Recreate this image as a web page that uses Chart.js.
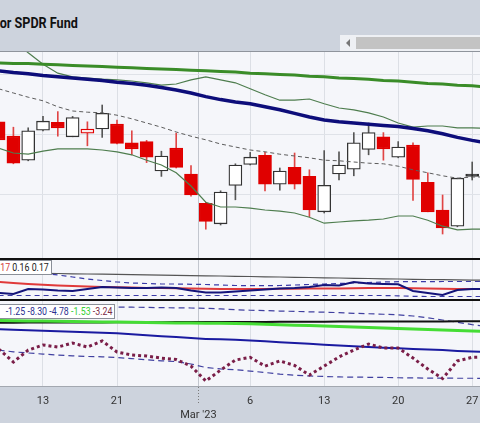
<!DOCTYPE html>
<html><head><meta charset="utf-8">
<script src="https://cdn.jsdelivr.net/npm/chart.js@4.4.1/dist/chart.umd.min.js"></script>
<style>
html,body{margin:0;padding:0;}
body{width:480px;height:423px;overflow:hidden;background:#cdd3dd;position:relative;font-family:Roboto,sans-serif;}
#title{position:absolute;right:402px;top:15px;font-weight:bold;font-size:14px;font-family:Roboto,sans-serif;color:#111;white-space:nowrap;transform:scaleX(0.9);transform-origin:right center;}
#scroll{position:absolute;left:340px;top:35px;width:140px;height:16px;background:#eef0f4;}
#thumb{position:absolute;left:16px;top:2px;right:0;height:12px;background:#c3c3c3;}
#arrow{position:absolute;left:6px;top:4px;width:0;height:0;border-top:4px solid transparent;border-bottom:4px solid transparent;border-right:4px solid #777;}
canvas{position:absolute;left:0;}
.sep{position:absolute;left:0;width:480px;}
.lbl{position:absolute;background:#fff;border:1px solid #8a8f98;white-space:nowrap;font-size:11px;font-family:Roboto,sans-serif;padding:0 2px 0 60px;line-height:13px;height:13px;}
.lbl span.in{display:inline-block;transform:scaleX(0.8);transform-origin:right center;}
</style></head><body>
<div id="title">or SPDR Fund</div>
<div id="scroll"><div id="arrow"></div><div id="thumb"></div></div>
<div class="sep" style="top:51px;height:1px;background:#8f949c"></div>
<canvas id="c1" width="480" height="206" style="top:52px"></canvas>
<div class="sep" style="top:258px;height:2px;background:#111"></div>
<canvas id="c2" width="480" height="39" style="top:260px"></canvas>
<div class="sep" style="top:299px;height:2px;background:#111"></div>
<canvas id="c3" width="480" height="122" style="top:301px"></canvas>
<div class="lbl" id="l2" style="right:428px;top:260px"><span class="in"></span></div>
<div class="lbl" id="l3" style="right:365px;top:304px"><span class="in"></span></div>
<script>
// ---- data ----
const dates = ['2023-02-08','2023-02-09','2023-02-10','2023-02-13','2023-02-14','2023-02-15','2023-02-16','2023-02-17','2023-02-21','2023-02-22','2023-02-23','2023-02-24','2023-02-27','2023-02-28','2023-03-01','2023-03-02','2023-03-03','2023-03-06','2023-03-07','2023-03-08','2023-03-09','2023-03-10','2023-03-13','2023-03-14','2023-03-15','2023-03-16','2023-03-17','2023-03-20','2023-03-21','2023-03-22','2023-03-23','2023-03-24','2023-03-27','2023-03-28'];
const open  = [65.22,64.98,64.58,65.08,65.21,64.97,65.03,65.10,65.18,64.87,64.89,64.40,64.78,64.35,63.86,63.52,64.16,64.51,64.66,64.18,64.46,64.31,63.72,64.35,64.43,64.76,64.97,64.63,64.83,64.21,63.75,63.48,64.35];
const high  = [65.27,65.13,65.12,65.31,65.39,65.31,65.22,65.50,65.25,65.07,64.91,64.73,65.03,64.49,63.88,64.07,64.52,64.71,64.71,64.45,64.70,64.42,64.74,64.72,65.04,65.20,65.04,64.89,64.87,64.37,64.00,64.28,64.55];
const low   = [64.87,64.52,64.57,65.07,64.98,64.97,64.82,64.96,64.85,64.67,64.54,64.31,64.45,63.98,63.43,63.50,63.92,64.50,64.07,64.08,64.10,63.64,63.70,64.25,64.32,64.67,64.58,64.62,63.91,63.72,63.35,63.47,64.25];
const close = [64.92,64.53,65.07,65.23,65.12,65.29,65.10,65.36,64.86,64.77,64.63,64.65,64.46,64.00,63.56,64.05,64.50,64.63,64.18,64.40,64.18,63.75,64.16,64.50,64.87,65.04,64.77,64.80,64.26,63.72,63.45,64.28,64.31];
const bbUpper = [66.75,66.58,66.37,66.18,66.03,65.97,65.95,65.93,65.92,65.90,65.87,65.83,65.85,65.92,65.97,65.92,65.87,65.77,65.67,65.58,65.58,65.60,65.52,65.45,65.42,65.37,65.30,65.20,65.13,65.15,65.15,65.12,65.12,65.11];
const bbMid   = [65.77,65.70,65.63,65.57,65.47,65.40,65.38,65.37,65.33,65.27,65.20,65.13,65.05,64.98,64.92,64.85,64.80,64.75,64.72,64.68,64.65,64.62,64.58,64.57,64.55,64.53,64.52,64.48,64.42,64.37,64.32,64.28,64.30,64.30];
const bbLower = [64.78,64.70,64.68,64.73,64.77,64.77,64.77,64.75,64.72,64.67,64.58,64.50,64.37,64.15,63.88,63.80,63.80,63.78,63.75,63.73,63.70,63.63,63.53,63.55,63.57,63.58,63.60,63.65,63.65,63.58,63.48,63.42,63.43,63.43];
const sma200 = [66.20,66.19,66.19,66.18,66.17,66.16,66.15,66.14,66.13,66.12,66.11,66.10,66.09,66.08,66.07,66.06,66.05,66.03,66.02,66.01,66.00,65.98,65.97,65.95,65.94,65.93,65.91,65.90,65.88,65.86,65.85,65.83,65.82,65.80];
const sma50  = [66.07,66.04,66.02,65.99,65.97,65.95,65.93,65.91,65.88,65.86,65.83,65.79,65.75,65.70,65.64,65.59,65.55,65.52,65.47,65.42,65.36,65.30,65.25,65.22,65.20,65.18,65.16,65.14,65.11,65.07,65.02,64.96,64.91,64.87];
// panel 2
const p2Line   = [0.161,0.160,0.165,0.1645,0.1635,0.163,0.165,0.167,0.1665,0.166,0.166,0.1665,0.166,0.1635,0.1615,0.1615,0.1625,0.1635,0.1645,0.1655,0.166,0.167,0.169,0.1685,0.172,0.1705,0.170,0.1697,0.163,0.161,0.159,0.164,0.165,0.165];
const p2Avg    = [0.172,0.171,0.170,0.1693,0.1685,0.168,0.1675,0.167,0.1667,0.1664,0.1661,0.1659,0.1657,0.1655,0.1653,0.1651,0.165,0.165,0.1651,0.1652,0.1653,0.1654,0.1655,0.1656,0.1658,0.1659,0.166,0.166,0.1658,0.1655,0.1652,0.165,0.165,0.165];
const p2Upper  = [0.181,0.181,0.181,0.1805,0.179,0.177,0.175,0.1735,0.172,0.171,0.1705,0.170,0.170,0.1697,0.1695,0.169,0.1685,0.1683,0.1683,0.1685,0.169,0.1695,0.170,0.1705,0.171,0.1715,0.172,0.1723,0.1723,0.1723,0.1725,0.1725,0.1725,0.1725];
const p2Lower  = [0.1585,0.1585,0.1585,0.1585,0.1585,0.1585,0.1585,0.1585,0.1585,0.1585,0.1585,0.1585,0.1585,0.1585,0.1585,0.1585,0.1585,0.1585,0.1585,0.1585,0.1585,0.1585,0.1585,0.1585,0.1585,0.1585,0.1585,0.1582,0.1577,0.1575,0.1575,0.1575,0.1575,0.1575];
const p2Gray   = [0.1814,0.1812,0.1809,0.1807,0.1805,0.1802,0.1800,0.1798,0.1796,0.1793,0.1791,0.1789,0.1786,0.1784,0.1782,0.1780,0.1777,0.1775,0.1772,0.1770,0.1767,0.1765,0.1762,0.1760,0.1757,0.1755,0.1752,0.1750,0.1747,0.1745,0.1743,0.1741,0.1739,0.1737];
// panel 3
const p3Osc    = [-2.72,-3.54,-2.79,-2.47,-2.60,-2.35,-2.60,-2.22,-2.91,-3.10,-3.16,-3.29,-3.38,-3.79,-4.72,-4.04,-3.41,-3.25,-3.79,-3.47,-3.75,-4.35,-3.79,-3.22,-2.79,-2.41,-2.66,-2.66,-3.29,-3.97,-4.57,-3.47,-3.24,-3.22];
const p3Green  = [-0.94,-0.95,-0.97,-0.98,-0.99,-1.00,-1.02,-1.03,-1.04,-1.05,-1.07,-1.08,-1.09,-1.10,-1.11,-1.12,-1.13,-1.15,-1.17,-1.20,-1.24,-1.26,-1.29,-1.32,-1.35,-1.38,-1.41,-1.44,-1.47,-1.50,-1.53,-1.57,-1.60,-1.63];
const p3Navy   = [-1.49,-1.52,-1.55,-1.58,-1.62,-1.65,-1.68,-1.71,-1.74,-1.80,-1.86,-1.92,-1.98,-2.04,-2.09,-2.12,-2.15,-2.19,-2.24,-2.30,-2.35,-2.40,-2.45,-2.50,-2.55,-2.60,-2.64,-2.67,-2.72,-2.75,-2.79,-2.84,-2.88,-2.91];
const p3Black  = [-1.08,-1.08,-1.07,-1.07,-1.07,-1.06,-1.06,-1.06,-1.05,-1.05,-1.05,-1.05,-1.04,-1.04,-1.04,-1.03,-1.03,-1.03,-1.03,-1.02,-1.02,-1.02,-1.02,-1.01,-1.01,-1.01,-1.01,-1.00,-1.00,-1.00,-1.00,-0.99,-0.99,-0.99];
const p3Upper  = [-0.07,-0.07,-0.07,-0.07,-0.07,-0.07,-0.07,-0.07,-0.10,-0.11,-0.12,-0.14,-0.15,-0.16,-0.18,-0.22,-0.27,-0.30,-0.32,-0.35,-0.37,-0.40,-0.42,-0.45,-0.49,-0.52,-0.55,-0.59,-0.66,-0.77,-0.91,-1.05,-1.20,-1.32];
const p3Lower  = [-2.79,-2.90,-2.97,-3.04,-3.10,-3.15,-3.19,-3.21,-3.26,-3.32,-3.40,-3.46,-3.51,-3.66,-3.88,-3.97,-4.02,-4.10,-4.19,-4.29,-4.36,-4.41,-4.44,-4.47,-4.48,-4.49,-4.50,-4.52,-4.53,-4.54,-4.54,-4.55,-4.55,-4.56];
// axis ticks (positions as trading-day index)
const tickVals   = [3, 8, 13.5, 17, 22, 27, 32];
const tickLabels = ['13', '21', ['', "Mar '23"], '6', '13', '20', '27'];
const label2 = [{t:'0.17', c:'#d43a3a'}, {t:' 0.16 0.17', c:'#222'}];
const label3 = [{t:'-1.25 -8.30 -4.78', c:'#2a2f91'}, {t:' -1.53', c:'#35cf35'}, {t:' -3.24', c:'#7b2a45'}];

// ---- rendering ----
const X_MIN = 0.0946, X_MAX = 32.527;
const RED = '#e00000', BLK = '#333333';
const pts = arr => arr.map((v, k) => ({x: k, y: v}));
function fillLabel(id, parts){
  const el = document.querySelector('#' + id + ' .in');
  parts.forEach(p => { const s = document.createElement('span'); s.textContent = p.t; s.style.color = p.c; el.appendChild(s); });
}
fillLabel('l2', label2); fillLabel('l3', label3);

const bgPlugin = {id:'bg', beforeDraw(chart){ const {ctx, chartArea:a} = chart; ctx.save(); ctx.fillStyle = '#f5f6fa'; ctx.fillRect(a.left, a.top, a.right - a.left, a.bottom - a.top); ctx.restore(); }};

function xScale(show){
  return {type:'linear', min:X_MIN, max:X_MAX, offset:false,
    afterBuildTicks(s){ s.ticks = tickVals.map(v => ({value:v})); },
    afterFit(s){ s.height = show ? 37 : 0; },
    grid:{ color: c => (c.tick && c.tick.value === 13.5) ? '#c2c6ce' : '#dcdfe5', lineWidth:1, offset:false,
      drawTicks: show, tickLength:17, tickWidth:1, tickBorderDash:[1,2],
      tickColor: c => (c.tick && c.tick.value === 13.5) ? '#7a7a7a' : 'rgba(0,0,0,0)'},
    border:{display:show, color:'#a3a8b0', width:1},
    ticks:{display:show, autoSkip:false, maxRotation:0, padding:-8, color:'#333',
      font:{family:'Roboto', size:11}, callback:(v, i) => tickLabels[i]}
  };
}
function yScale(min, max, gridVals){
  return {type:'linear', min, max, beginAtZero:false,
    afterFit(s){ s.width = 0; },
    afterBuildTicks(s){ if (gridVals) s.ticks = gridVals.map(v => ({value:v})); },
    ticks:{display:false}, border:{display:false},
    grid:{display: !!gridVals, color:'#dfe2e8', drawTicks:false}};
}
function line(data, color, width, order, dash){
  return {type:'line', data: pts(data), borderColor: color, borderWidth: width, pointRadius:0, tension:0,
    borderDash: dash || [], order, fill:false, borderCapStyle:'butt'};
}
const baseOpts = (yS, showX) => ({responsive:false, animation:false, events:[],
  layout:{padding:0}, plugins:{legend:{display:false}, tooltip:{enabled:false}, title:{display:false}},
  scales:{x: xScale(showX), y: yS}});

// candle colours from data
const bodyBg = [], bodyBorder = [], wickCol = [];
close.forEach((c, k) => {
  const prev = k > 0 ? close[k - 1] : open[k];
  const down = c < prev, up = c >= open[k];
  bodyBg.push(up ? (down ? '#fbeaea' : '#ffffff') : (down ? RED : '#111'));
  bodyBorder.push(down ? RED : BLK);
  wickCol.push(down ? '#e04545' : '#555');
});

new Chart(document.getElementById('c1'), {
  type:'line',
  data:{datasets:[
    {type:'bar', data: low.map((l, k) => ({x:k, y:[l, high[k]]})), backgroundColor: wickCol, borderWidth:0, barThickness:1, grouped:false, order:20},
    {type:'bar', data: open.map((o, k) => ({x:k, y:[o, close[k]]})), backgroundColor: bodyBg, borderColor: bodyBorder, borderWidth:1.3, borderSkipped:false, barThickness:13, grouped:false, order:19},
    line(bbMid, '#5c5c5c', 1, 6, [4,3]),
    line(bbUpper, '#4e7d4e', 1.2, 5),
    line(bbLower, '#4e7d4e', 1.2, 5),
    line(sma200, '#3a8c28', 3, 3),
    line(sma50, '#0d0d7a', 3.5, 2)
  ]},
  options: baseOpts(yScale(62.95, 66.3833, [64, 65, 66]), false),
  plugins:[bgPlugin]
});

new Chart(document.getElementById('c2'), {
  type:'line',
  data:{datasets:[
    line(p2Gray, '#555', 1.2, 6),
    line(p2Upper, '#3a3aa8', 1.2, 5, [5,4]),
    line(p2Lower, '#3a3aa8', 1.2, 5, [5,4]),
    line(p2Avg, '#e03a3a', 2, 3),
    line(p2Line, '#14147a', 2, 2)
  ]},
  options: baseOpts(yScale(0.155, 0.194, null), false),
  plugins:[bgPlugin]
});

new Chart(document.getElementById('c3'), {
  type:'line',
  data:{datasets:[
    line(p3Upper, '#4040a0', 1.2, 6, [6,4]),
    line(p3Lower, '#4040a0', 1.2, 6, [6,4]),
    line(p3Black, '#111', 2, 5),
    line(p3Green, '#45dd35', 3, 4),
    line(p3Navy, '#1a1aa0', 2, 3),
    line(p3Osc, '#7a1e48', 3, 2, [3,3])
  ]},
  options: baseOpts(yScale(-5.035, 0.2775, null), true),
  plugins:[bgPlugin]
});
</script>
</body></html>
